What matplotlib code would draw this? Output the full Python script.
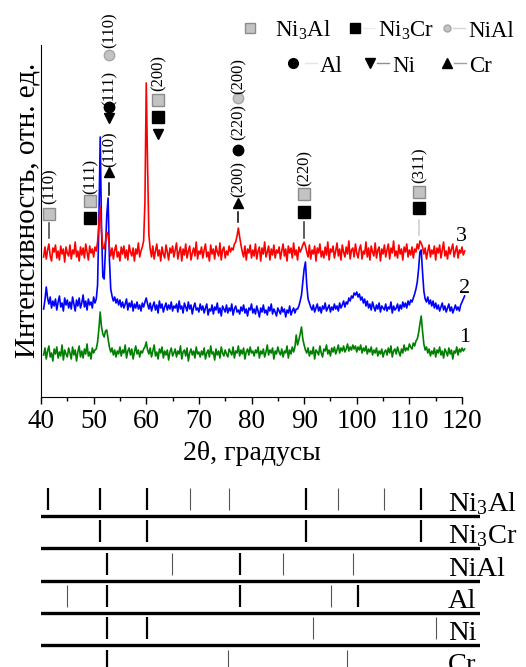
import numpy as np
import matplotlib
matplotlib.use("Agg")
import matplotlib.pyplot as plt

plt.rcParams['font.family'] = 'Liberation Serif'
plt.rcParams['mathtext.fontset'] = 'custom'
plt.rcParams['mathtext.rm'] = 'Liberation Serif'

# сетка 2θ, шаг 0.25°
two_theta = np.arange(40.5, 120.51, 0.25)

# дифрактограммы (отн. ед.)
curve_3 = [
    140, 150, 138, 147, 153, 141, 136, 149, 145, 152, 139, 146, 137, 151, 143, 148, 135, 150, 144, 141,
    152, 138, 147, 143, 155, 140, 146, 136, 150, 142, 149, 139, 153, 145, 137, 151, 144, 148, 140, 150,
    146, 155, 172, 190, 165, 150, 148, 156, 165, 162, 150, 141, 149, 138, 147, 152, 140, 145, 136, 150,
    143, 151, 139, 147, 137, 152, 145, 141, 149, 136, 148, 143, 154, 140, 146, 150, 156, 195, 314, 232,
    162, 148, 140, 151, 138, 146, 153, 141, 147, 136, 150, 143, 139, 152, 145, 137, 149, 144, 151, 140,
    147, 154, 138, 145, 150, 136, 148, 142, 153, 139, 146, 151, 137, 144, 149, 141, 155, 138, 146, 143,
    150, 139, 147, 153, 140, 145, 136, 152, 143, 148, 138, 151, 145, 141, 154, 137, 147, 150, 139, 146,
    142, 151, 145, 149, 147, 153, 155, 161, 169, 160, 152, 145, 140, 151, 137, 148, 144, 152, 139, 147,
    141, 153, 138, 146, 150, 136, 149, 143, 155, 140, 145, 151, 137, 148, 142, 152, 139, 147, 144, 150,
    138, 146, 153, 141, 148, 136, 151, 144, 149, 139, 154, 142, 147, 137, 150, 145, 148, 152, 155, 151,
    145, 140, 152, 138, 147, 143, 151, 136, 149, 144, 153, 140, 146, 139, 150, 142, 155, 137, 148, 145,
    151, 139, 146, 154, 141, 148, 137, 152, 145, 140, 150, 143, 156, 138, 147, 149, 140, 153, 144, 139,
    148, 152, 138, 146, 143, 155, 140, 149, 137, 151, 145, 141, 154, 139, 147, 150, 136, 148, 143, 152,
    140, 147, 153, 138, 149, 144, 156, 141, 146, 139, 152, 143, 148, 137, 150, 145, 153, 140, 147, 142,
    150, 139, 148, 145, 153, 148, 156, 154, 150, 143, 149, 138, 146, 152, 140, 147, 143, 151, 137, 149,
    144, 152, 139, 147, 155, 141, 146, 138, 150, 143, 148, 153, 140, 146, 151, 139, 147, 144, 150, 142,
    146,
]
curve_2 = [
    88, 97, 110, 99, 93, 100, 89, 96, 91, 98, 87, 95, 101, 90, 94, 86, 99, 92, 97, 89,
    95, 88, 100, 93, 86, 97, 91, 99, 89, 94, 102, 90, 96, 87, 98, 92, 95, 89, 100, 94,
    98, 112, 175, 260, 168, 120, 118, 148, 182, 199, 138, 108, 101, 96, 100, 94, 98, 92, 97, 90,
    95, 89, 93, 98, 87, 94, 90, 96, 86, 93, 89, 95, 88, 92, 86, 94, 90, 95, 99, 93,
    88, 94, 86, 91, 95, 87, 92, 84, 96, 89, 93, 85, 90, 94, 87, 92, 88, 95, 86, 91,
    89, 93, 85, 96, 88, 91, 84, 94, 90, 86, 95, 88, 92, 83, 90, 94, 87, 89, 85, 93,
    87, 91, 84, 89, 93, 82, 88, 86, 92, 83, 90, 87, 94, 84, 89, 81, 91, 88, 85, 92,
    84, 89, 86, 93, 82, 88, 91, 85, 87, 83, 90, 86, 92, 84, 88, 81, 89, 87, 93, 84,
    88, 83, 91, 86, 80, 89, 85, 92, 84, 87, 82, 90, 86, 93, 83, 88, 85, 81, 89, 86,
    83, 90, 85, 88, 80, 87, 84, 91, 82, 86, 89, 84, 88, 88, 91, 96, 102, 115, 128, 135,
    112, 98, 94, 90, 87, 92, 85, 89, 93, 86, 90, 84, 91, 88, 94, 86, 89, 92, 85, 90,
    87, 93, 88, 91, 86, 94, 89, 92, 96, 90, 95, 93, 99, 96, 101, 99, 104, 102, 105, 100,
    103, 97, 100, 94, 98, 91, 96, 89, 93, 87, 95, 90, 86, 92, 88, 94, 85, 91, 89, 87,
    93, 86, 90, 88, 95, 84, 91, 87, 89, 93, 86, 92, 88, 95, 90, 94, 89, 96, 92, 97,
    95, 99, 103, 108, 115, 128, 145, 147, 125, 106, 98, 95, 100, 93, 97, 91, 96, 89, 94, 88,
    92, 86, 90, 94, 87, 91, 85, 89, 93, 86, 90, 84, 88, 92, 87, 90, 86, 92, 95, 98,
    101,
]
curve_1 = [
    42, 49, 38, 46, 51, 40, 44, 36, 48, 43, 50, 39, 45, 41, 52, 37, 47, 43, 40, 49,
    44, 38, 50, 42, 47, 36, 45, 51, 40, 46, 39, 48, 43, 53, 41, 45, 38, 49, 44, 47,
    48, 55, 68, 85, 70, 63, 60, 66, 67, 58, 50, 45, 49, 42, 47, 40, 46, 43, 50, 41,
    47, 44, 52, 39, 46, 49, 42, 48, 38, 45, 51, 43, 47, 40, 46, 44, 48, 50, 55, 47,
    43, 49, 40, 46, 52, 41, 45, 38, 48, 44, 50, 39, 46, 42, 47, 37, 45, 49, 41, 44,
    48, 40, 46, 43, 51, 38, 45, 47, 41, 49, 36, 44, 48, 42, 46, 39, 50, 43, 45, 40,
    46, 42, 49, 38, 44, 47, 40, 51, 43, 45, 37, 48, 42, 46, 39, 50, 44, 41, 47, 43,
    40, 48, 45, 42, 50, 39, 46, 44, 51, 41, 47, 43, 49, 38, 45, 48, 42, 50, 44, 46,
    41, 47, 44, 50, 39, 46, 43, 48, 40, 45, 52, 42, 47, 44, 49, 38, 46, 43, 50, 45,
    42, 48, 40, 46, 44, 51, 39, 47, 43, 50, 45, 50, 62, 52, 57, 63, 70, 58, 52, 47,
    44, 49, 41, 46, 43, 50, 38, 47, 45, 42, 51, 44, 40, 48, 46, 52, 43, 47, 41, 49,
    45, 50, 43, 47, 52, 44, 49, 46, 51, 45, 48, 53, 46, 50, 47, 52, 48, 51, 45, 50,
    47, 52, 44, 49, 46, 51, 43, 48, 45, 50, 42, 47, 44, 49, 41, 46, 43, 48, 40, 45,
    47, 42, 49, 44, 51, 40, 46, 48, 43, 50, 45, 41, 48, 44, 52, 46, 49, 47, 53, 50,
    48, 54, 51, 56, 58, 64, 73, 81, 66, 53, 47, 50, 44, 48, 41, 46, 43, 49, 40, 47,
    44, 50, 42, 46, 39, 48, 45, 41, 49, 43, 47, 38, 46, 44, 50, 42, 48, 45, 49, 46,
    48,
]
curve_names = ['1', '2', '3']
curve_colors = ['#008000', '#0000ff', '#ff0000']

# штрих-диаграммы эталонов: положения линий и сильные/слабые
ni3al_pos = [41.4, 51.2, 60.1, 68.3, 75.7, 90.4, 96.4, 105.2, 112.2]
ni3al_strong = [1, 1, 1, 0, 0, 1, 0, 0, 1]
ni3cr_pos = [51.2, 60.1, 90.4, 112.2]
ni3cr_strong = [1, 1, 1, 1]
nial_pos = [52.6, 64.8, 77.8, 86.0, 99.2]
nial_strong = [1, 0, 1, 0, 0]
al_pos = [45.0, 52.6, 77.8, 95.1, 100.2]
al_strong = [0, 1, 1, 0, 1]
ni_pos = [52.6, 60.1, 91.7, 115.1]
ni_strong = [1, 1, 0, 0]
cr_pos = [52.6, 75.6, 98.1]
cr_strong = [1, 0, 0]

phase_labels = {
    'Ni3Al': r'$\mathregular{Ni_3Al}$', 'Ni3Cr': r'$\mathregular{Ni_3Cr}$',
    'NiAl': 'NiAl', 'Al': 'Al', 'Ni': 'Ni', 'Cr': 'Cr',
}
marker_style = {
    'Ni3Al': dict(marker='s', markersize=8.5, markerfacecolor='#c3c3c3', markeredgecolor='#8c8c8c'),
    'Ni3Cr': dict(marker='s', markersize=8.5, markerfacecolor='black', markeredgecolor='black'),
    'NiAl': dict(marker='o', markersize=7.5, markerfacecolor='#c3c3c3', markeredgecolor='#a5a5a5'),
    'Al': dict(marker='o', markersize=7.5, markerfacecolor='black', markeredgecolor='black'),
    'Ni': dict(marker='v', markersize=7, markerfacecolor='black', markeredgecolor='black'),
    'Cr': dict(marker='^', markersize=7, markerfacecolor='black', markeredgecolor='black'),
}

# подписи рефлексов: (2θ, [элементы снизу вверх])
peak_marks = [
    (41.5, [('|', 159, 174, '#404040'), ('Ni3Al', 183), ('(110)', 211)]),
    (49.3, [('Ni3Cr', 179), ('Ni3Al', 196), ('(111)', 221)]),
    (53.0, [('|', 202, 214, 'black'), ('Cr', 225), ('(110)', 248), ('Ni', 279), ('Al', 290),
            ('(111)', 309), ('NiAl', 342), ('(110)', 367)]),
    (62.3, [('Ni', 263), ('Ni3Cr', 280), ('Ni3Al', 297), ('(200)', 324)]),
    (77.45, [('|', 175, 185, 'black'), ('Cr', 194), ('(200)', 218), ('Al', 247), ('(220)', 275),
             ('NiAl', 299), ('(200)', 321)]),
    (90.0, [('|', 159, 175, '#303030'), ('Ni3Cr', 185), ('Ni3Al', 203), ('(220)', 229)]),
    (111.8, [('|', 162, 177, '#cccccc'), ('Ni3Cr', 189), ('Ni3Al', 205), ('(311)', 232)]),
]

W, H = 526, 667
fig = plt.figure(figsize=(W / 100, H / 100), dpi=100)

# ---- дифрактограммы ----
ax = fig.add_axes([41 / W, 270 / H, 421 / W, 352 / H])
for y, c in zip([curve_1, curve_2, curve_3], curve_colors):
    ax.plot(two_theta, y, color=c, lw=1.2, clip_on=False)

label_pos = [(120.5, 55), (120.5, 104), (119.9, 156)]
for name, (lx, ly) in zip(curve_names, label_pos):
    ax.text(lx, ly, name, fontsize=16, ha='center', va='baseline')

for x0, items in peak_marks:
    for it in items:
        if it[0] == '|':
            ax.plot([x0, x0], [it[1], it[2]], color=it[3], lw=1.1, clip_on=False)
        elif it[0].startswith('('):
            ax.text(x0 + 0.1, it[1], it[0], rotation=90, fontsize=12, ha='center', va='center')
        else:
            ax.plot(x0, it[1], linestyle='none', clip_on=False, **marker_style[it[0]])

ax.set_xlim(40, 120)
ax.set_ylim(0, 352)
ax.set_xticks(range(40, 121, 10))
ax.set_xticks(range(45, 120, 10), minor=True)
ax.set_yticks([])
ax.spines['top'].set_visible(False)
ax.spines['right'].set_visible(False)
ax.tick_params(axis='x', which='major', length=5, width=1, labelsize=19.5, pad=4)
ax.tick_params(axis='x', which='minor', length=3, width=1)
ax.patch.set_alpha(0)

fig.text(251.5 / W, (H - 460) / H, '2θ, градусы', fontsize=20, ha='center', va='baseline')
fig.text(35 / W, (H - 210) / H, 'Интенсивность, отн. ед.', fontsize=21, rotation=90,
         rotation_mode='anchor', ha='center', va='baseline')

# ---- штрих-диаграммы ----
row_step = 32.3
ax2 = fig.add_axes([41 / W, 0, 439 / W, 187 / H])
ax2.set_xlim(40, 40 + 439 / 5.2625)
ax2.set_ylim((667 - 516) / row_step, (480 - 516) / row_step)
ax2.axis('off')

rows = [(ni3al_pos, ni3al_strong, 'Ni3Al'), (ni3cr_pos, ni3cr_strong, 'Ni3Cr'),
        (nial_pos, nial_strong, 'NiAl'), (al_pos, al_strong, 'Al'),
        (ni_pos, ni_strong, 'Ni'), (cr_pos, cr_strong, 'Cr')]
for i, (pos, strong, name) in enumerate(rows):
    ax2.axhline(i, color='black', lw=2.4)
    for p, s in zip(pos, strong):
        ax2.vlines(p, i - 28 / row_step, i - 6 / row_step,
                   color='black' if s else '#555555', lw=1.6 if s else 0.8)
    ax2.text(40 + 407 / 5.2625, i - 5 / row_step, phase_labels[name], fontsize=20.5,
             ha='left', va='baseline')

# ---- легенда ----
lg = fig.add_axes([0, 0, 1, 1], zorder=5)
lg.set_xlim(0, W)
lg.set_ylim(H, 0)
lg.axis('off')
legend_rows = [
    [('Ni3Al', 250, 275, None), ('Ni3Cr', 355, 378, '#ececec'), ('NiAl', 447, 468, '#d5d5d5')],
    [('Al', 293, 320, '#e5e5e5'), ('Ni', 370, 392, '#8f8f8f'), ('Cr', 447, 469, '#a0a0a0')],
]
legend_size = {'Ni3Al': 7, 'Ni3Cr': 7, 'NiAl': 5, 'Al': 7, 'Ni': 6.5, 'Cr': 6.5}
for row, (my, ty) in zip(legend_rows, [(28, 37), (63, 72)]):
    for name, mx, tx, lc in row:
        if lc:
            lg.plot([tx - 15, tx - 3], [my, my], color=lc, lw=1)
        st = dict(marker_style[name])
        st['markersize'] = legend_size[name]
        lg.plot(mx, my, linestyle='none', **st)
        lg.text(tx, ty, phase_labels[name], fontsize=16.5, ha='left', va='baseline')

fig.savefig('out.png', dpi=100)
